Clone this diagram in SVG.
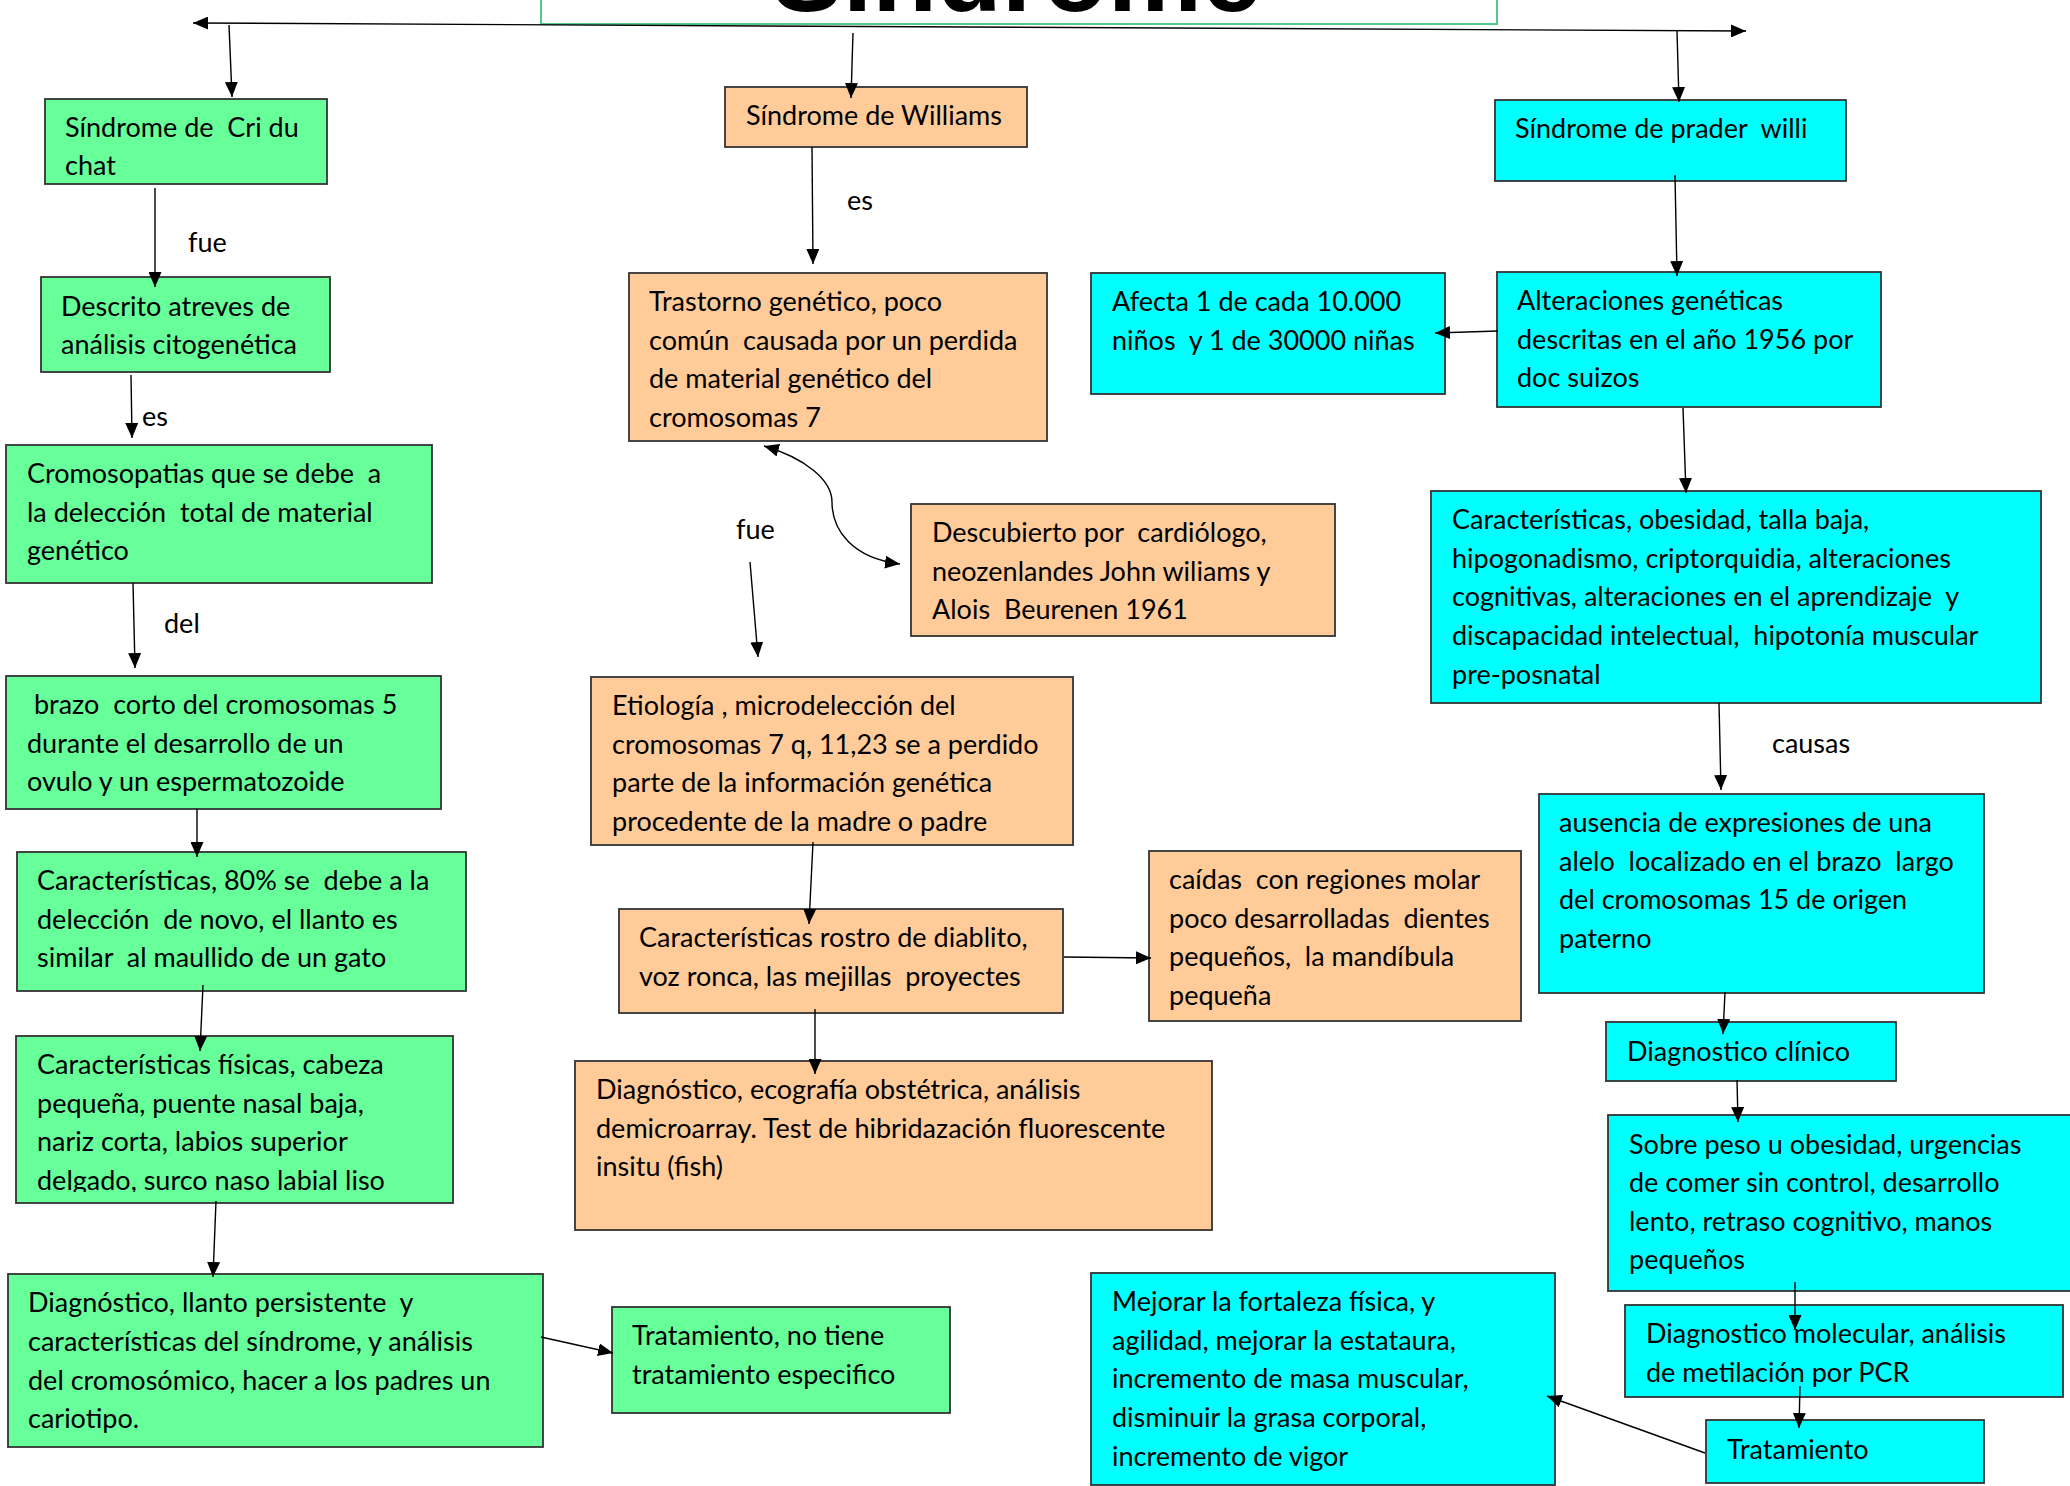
<svg xmlns="http://www.w3.org/2000/svg" width="2070" height="1486" viewBox="0 0 2070 1486">
<defs>
<style>
.bx{stroke:#333;stroke-width:1.8}
.g{fill:#66FF99}
.o{fill:#FFCC99}
.c{fill:#00FFFF}
text{font-family:Lato,"Open Sans","Liberation Sans",sans-serif;font-size:27px;fill:#000;white-space:pre}
.ln{stroke:#000;stroke-width:1.4;fill:none}
.title{font-family:"Liberation Sans",Arial,sans-serif;font-weight:bold;font-size:106px}
</style>
<marker id="ah" viewBox="0 0 15 13" refX="15" refY="6.5" markerWidth="15" markerHeight="13" markerUnits="userSpaceOnUse" orient="auto-start-reverse">
<path d="M0,0 L15,6.5 L0,13 z" fill="#000"/>
</marker>
<clipPath id="clip6"><rect x="0" y="1036" width="460" height="156"/></clipPath>
</defs>
<rect width="2070" height="1486" fill="#fff"/>

<g id="title">
<rect x="541" y="-40" width="956" height="64" fill="#fff" stroke="#52C98A" stroke-width="2"/>
<text class="title" x="772" y="11">Síndrome</text>
</g>

<g id="n1"><rect class="bx g" x="45" y="99" width="282" height="85"/><text x="65" y="137">Síndrome de  Cri du</text><text x="65" y="175">chat</text></g>
<g id="n2"><rect class="bx g" x="41" y="277" width="289" height="95"/><text x="61" y="316">Descrito atreves de</text><text x="61" y="354">análisis citogenética</text></g>
<g id="n3"><rect class="bx g" x="6" y="445" width="426" height="138"/><text x="27" y="483">Cromosopatias que se debe  a</text><text x="27" y="522">la delección  total de material</text><text x="27" y="560">genético</text></g>
<g id="n4"><rect class="bx g" x="6" y="676" width="435" height="133"/><text x="27" y="714"> brazo  corto del cromosomas 5</text><text x="27" y="753">durante el desarrollo de un</text><text x="27" y="791">ovulo y un espermatozoide</text></g>
<g id="n5"><rect class="bx g" x="17" y="852" width="449" height="139"/><text x="37" y="890">Características, 80% se  debe a la</text><text x="37" y="929">delección  de novo, el llanto es</text><text x="37" y="967">similar  al maullido de un gato</text></g>
<g id="n6"><rect class="bx g" x="16" y="1036" width="437" height="167"/><g clip-path="url(#clip6)"><text x="37" y="1074">Características físicas, cabeza</text><text x="37" y="1113">pequeña, puente nasal baja,</text><text x="37" y="1151">nariz corta, labios superior</text><text x="37" y="1190">delgado, surco naso labial liso</text></g></g>
<g id="n7"><rect class="bx g" x="8" y="1274" width="535" height="173"/><text x="28" y="1312">Diagnóstico, llanto persistente  y</text><text x="28" y="1351">características del síndrome, y análisis</text><text x="28" y="1390">del cromosómico, hacer a los padres un</text><text x="28" y="1428">cariotipo.</text></g>
<g id="n8"><rect class="bx g" x="612" y="1307" width="338" height="106"/><text x="632" y="1345">Tratamiento, no tiene</text><text x="632" y="1384">tratamiento especifico</text></g>

<g id="n9"><rect class="bx o" x="725" y="87" width="302" height="60"/><text x="746" y="125">Síndrome de Williams</text></g>
<g id="n10"><rect class="bx o" x="629" y="273" width="418" height="168"/><text x="649" y="311">Trastorno genético, poco</text><text x="649" y="350">común  causada por un perdida</text><text x="649" y="388">de material genético del</text><text x="649" y="427">cromosomas 7</text></g>
<g id="n11"><rect class="bx o" x="911" y="504" width="424" height="132"/><text x="932" y="542">Descubierto por  cardiólogo,</text><text x="932" y="581">neozenlandes John wiliams y</text><text x="932" y="619">Alois  Beurenen 1961</text></g>
<g id="n12"><rect class="bx o" x="591" y="677" width="482" height="168"/><text x="612" y="715">Etiología , microdelección del</text><text x="612" y="754">cromosomas 7 q, 11,23 se a perdido</text><text x="612" y="792">parte de la información genética</text><text x="612" y="831">procedente de la madre o padre</text></g>
<g id="n13"><rect class="bx o" x="619" y="909" width="444" height="104"/><text x="639" y="947">Características rostro de diablito,</text><text x="639" y="986">voz ronca, las mejillas  proyectes</text></g>
<g id="n14"><rect class="bx o" x="1149" y="851" width="372" height="170"/><text x="1169" y="889">caídas  con regiones molar</text><text x="1169" y="928">poco desarrolladas  dientes</text><text x="1169" y="966">pequeños,  la mandíbula</text><text x="1169" y="1005">pequeña</text></g>
<g id="n15"><rect class="bx o" x="575" y="1061" width="637" height="169"/><text x="596" y="1099">Diagnóstico, ecografía obstétrica, análisis</text><text x="596" y="1138">demicroarray. Test de hibridazación fluorescente</text><text x="596" y="1176">insitu (fish)</text></g>

<g id="n16"><rect class="bx c" x="1495" y="100" width="351" height="81"/><text x="1515" y="138">Síndrome de prader  willi</text></g>
<g id="n17"><rect class="bx c" x="1091" y="273" width="354" height="121"/><text x="1112" y="311">Afecta 1 de cada 10.000</text><text x="1112" y="350">niños  y 1 de 30000 niñas</text></g>
<g id="n18"><rect class="bx c" x="1497" y="272" width="384" height="135"/><text x="1517" y="310">Alteraciones genéticas</text><text x="1517" y="349">descritas en el año 1956 por</text><text x="1517" y="387">doc suizos</text></g>
<g id="n19"><rect class="bx c" x="1431" y="491" width="610" height="212"/><text x="1452" y="529">Características, obesidad, talla baja,</text><text x="1452" y="568">hipogonadismo, criptorquidia, alteraciones</text><text x="1452" y="606">cognitivas, alteraciones en el aprendizaje  y</text><text x="1452" y="645">discapacidad intelectual,  hipotonía muscular</text><text x="1452" y="684">pre-posnatal</text></g>
<g id="n20"><rect class="bx c" x="1539" y="794" width="445" height="199"/><text x="1559" y="832">ausencia de expresiones de una</text><text x="1559" y="871">alelo  localizado en el brazo  largo</text><text x="1559" y="909">del cromosomas 15 de origen</text><text x="1559" y="948">paterno</text></g>
<g id="n21"><rect class="bx c" x="1606" y="1022" width="290" height="59"/><text x="1627" y="1061">Diagnostico clínico</text></g>
<g id="n22"><rect class="bx c" x="1608" y="1115" width="480" height="176"/><text x="1629" y="1154">Sobre peso u obesidad, urgencias</text><text x="1629" y="1192">de comer sin control, desarrollo</text><text x="1629" y="1231">lento, retraso cognitivo, manos</text><text x="1629" y="1269">pequeños</text></g>
<g id="n23"><rect class="bx c" x="1625" y="1305" width="438" height="92"/><text x="1646" y="1343">Diagnostico molecular, análisis</text><text x="1646" y="1382">de metilación por PCR</text></g>
<g id="n24"><rect class="bx c" x="1706" y="1420" width="278" height="63"/><text x="1727" y="1459">Tratamiento</text></g>
<g id="n25"><rect class="bx c" x="1091" y="1273" width="464" height="212"/><text x="1112" y="1311">Mejorar la fortaleza física, y</text><text x="1112" y="1350">agilidad, mejorar la estataura,</text><text x="1112" y="1388">incremento de masa muscular,</text><text x="1112" y="1427">disminuir la grasa corporal,</text><text x="1112" y="1466">incremento de vigor</text></g>

<g id="connectors">
<line class="ln" x1="193" y1="23" x2="1746" y2="31" marker-start="url(#ah)" marker-end="url(#ah)"/>
<line class="ln" x1="229" y1="25" x2="232" y2="97" marker-end="url(#ah)"/>
<line class="ln" x1="853" y1="33" x2="851" y2="98" marker-end="url(#ah)"/>
<line class="ln" x1="1677" y1="31" x2="1679" y2="102" marker-end="url(#ah)"/>
<line class="ln" x1="155" y1="188" x2="155" y2="287" marker-end="url(#ah)"/>
<line class="ln" x1="131" y1="375" x2="132" y2="438" marker-end="url(#ah)"/>
<line class="ln" x1="133" y1="583" x2="135" y2="668" marker-end="url(#ah)"/>
<line class="ln" x1="197" y1="809" x2="197" y2="857" marker-end="url(#ah)"/>
<line class="ln" x1="203" y1="985" x2="200" y2="1051" marker-end="url(#ah)"/>
<line class="ln" x1="216" y1="1201" x2="213" y2="1277" marker-end="url(#ah)"/>
<line class="ln" x1="541" y1="1337" x2="613" y2="1353" marker-end="url(#ah)"/>
<line class="ln" x1="812" y1="147" x2="813" y2="264" marker-end="url(#ah)"/>
<path class="ln" d="M764,446 C805,458 832,480 832,502 C832,530 852,558 900,564" marker-start="url(#ah)" marker-end="url(#ah)"/>
<line class="ln" x1="750" y1="562" x2="758" y2="657" marker-end="url(#ah)"/>
<line class="ln" x1="813" y1="842" x2="809" y2="924" marker-end="url(#ah)"/>
<line class="ln" x1="1064" y1="957" x2="1151" y2="958" marker-end="url(#ah)"/>
<line class="ln" x1="815" y1="1009" x2="815" y2="1074" marker-end="url(#ah)"/>
<line class="ln" x1="1675" y1="175" x2="1677" y2="276" marker-end="url(#ah)"/>
<line class="ln" x1="1498" y1="331" x2="1435" y2="333" marker-end="url(#ah)"/>
<line class="ln" x1="1683" y1="408" x2="1686" y2="493" marker-end="url(#ah)"/>
<line class="ln" x1="1719" y1="703" x2="1721" y2="790" marker-end="url(#ah)"/>
<line class="ln" x1="1725" y1="992" x2="1723" y2="1034" marker-end="url(#ah)"/>
<line class="ln" x1="1737" y1="1080" x2="1738" y2="1122" marker-end="url(#ah)"/>
<line class="ln" x1="1795" y1="1282" x2="1795" y2="1330" marker-end="url(#ah)"/>
<line class="ln" x1="1800" y1="1386" x2="1799" y2="1428" marker-end="url(#ah)"/>
<line class="ln" x1="1705" y1="1453" x2="1547" y2="1396" marker-end="url(#ah)"/>
<text x="188" y="252">fue</text>
<text x="142" y="426">es</text>
<text x="164" y="633">del</text>
<text x="847" y="210">es</text>
<text x="736" y="539">fue</text>
<text x="1772" y="753">causas</text>
</g>
</svg>
